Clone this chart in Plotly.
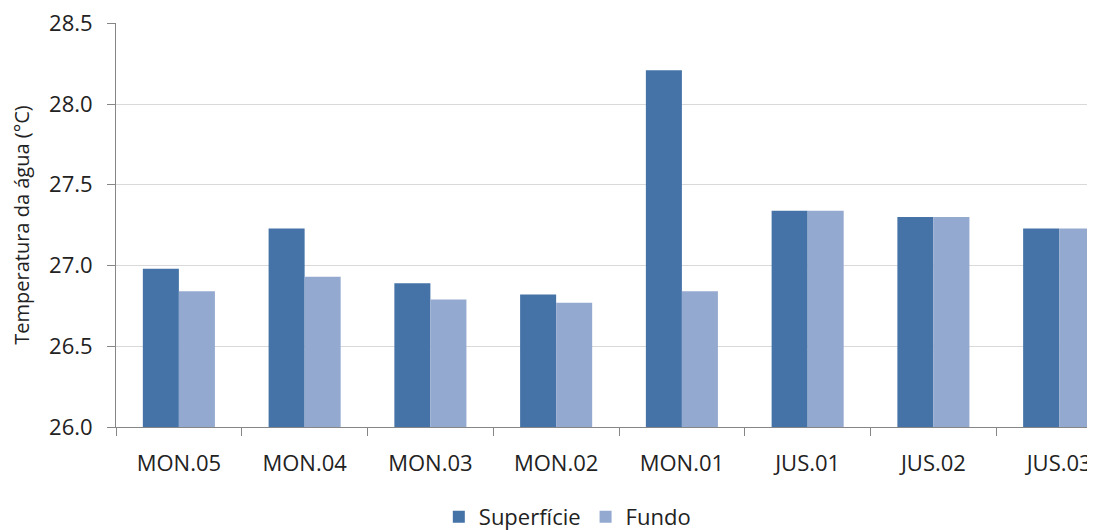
import plotly.graph_objects as go

# Temperatura da água por ponto de coleta
PONTOS = ["MON.05", "MON.04", "MON.03", "MON.02", "MON.01", "JUS.01", "JUS.02", "JUS.03"]
SUPERFICIE = [26.98, 27.23, 26.89, 26.82, 28.21, 27.34, 27.30, 27.23]
FUNDO = [26.84, 26.93, 26.79, 26.77, 26.84, 27.34, 27.30, 27.23]

COR_SUP = "#4573A7"
COR_FUN = "#94A9D0"
FONTE = "Open Sans, sans-serif"

fig = go.Figure()
fig.add_trace(go.Bar(x=PONTOS, y=SUPERFICIE, name="Superfície",
                     marker=dict(color=COR_SUP, line=dict(width=0)), base=0))
fig.add_trace(go.Bar(x=PONTOS, y=FUNDO, name="Fundo",
                     marker=dict(color=COR_FUN, line=dict(width=0)), base=0))

# page body has an 8px margin, so the figure is sized to the visible area
fig.update_layout(
    width=1087, height=522,
    barmode="group", bargap=0.427, bargroupgap=0,
    plot_bgcolor="white", paper_bgcolor="white",
    font=dict(family=FONTE, size=22, color="#222222"),
    margin=dict(l=108, r=0, t=15, b=103),
    showlegend=True,
    legend=dict(orientation="h", x=0.461, xanchor="center",
                yref="container", y=0.025, yanchor="middle",
                font=dict(size=22), traceorder="normal", itemwidth=30),
)
fig.update_xaxes(
    range=[-0.5, 7.285], showline=True, linecolor="#868686", linewidth=1,
    ticks="outside", ticklen=8, tickcolor="#868686", tickson="boundaries",
    showgrid=False, tickfont=dict(size=22), ticklabelstandoff=17,
)
fig.update_yaxes(
    range=[26.0, 28.502], tickvals=[26.0, 26.5, 27.0, 27.5, 28.0, 28.5], tickformat=".1f",
    showline=True, linecolor="#868686", linewidth=1,
    ticks="outside", ticklen=8, tickcolor="#868686", ticklabeloverflow="allow",
    showgrid=True, gridcolor="#d9d9d9", gridwidth=1, zeroline=False,
    tickfont=dict(size=22), ticklabelstandoff=10,
    title=dict(text="Temperatura da água (°C)", font=dict(size=20), standoff=14),
)

fig.write_html("out.html")
